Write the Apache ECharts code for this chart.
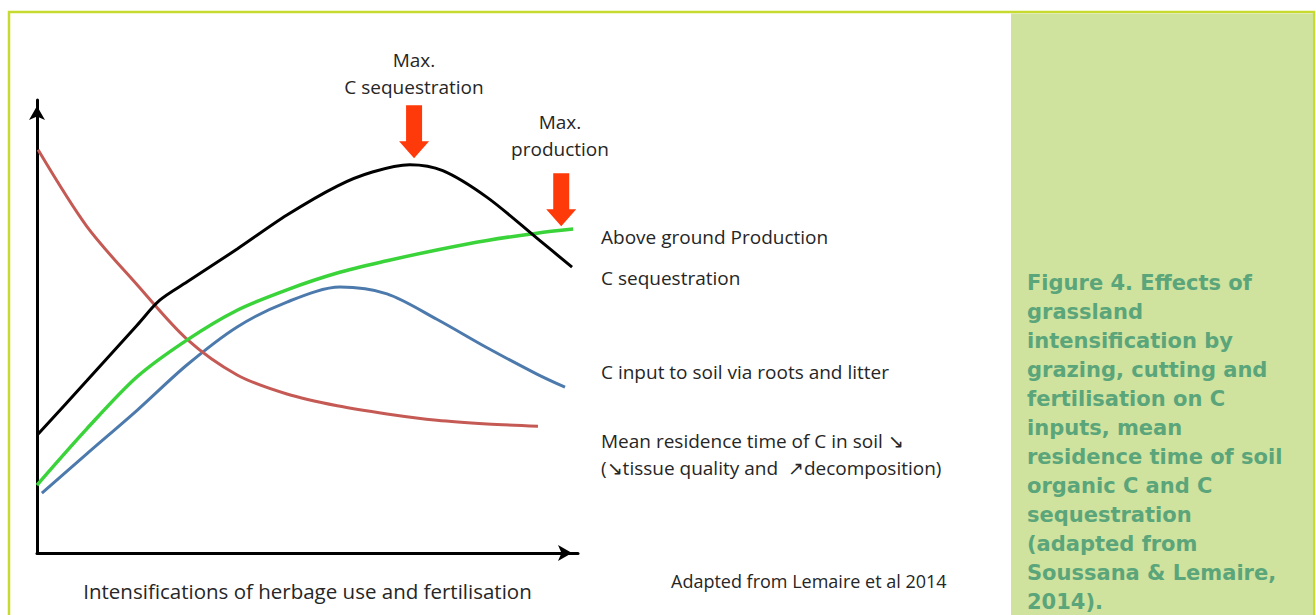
<!DOCTYPE html>
<html>
<head>
<meta charset="utf-8">
<style>
html,body{margin:0;padding:0;background:#fff;}
#chart{width:1316px;height:615px;}
</style>
<script src="https://cdn.jsdelivr.net/npm/echarts@6/dist/echarts.min.js"></script>
</head>
<body>
<div id="chart"></div>
<script>
// ---- data (abstract units: x 0..100 intensification, y 0..100 relative level) ----
const cSequestration = [[0,26.0],[9.2,38.0],[18.5,50.3],[22.7,55.8],[27.7,59.8],[37.0,67.1],[46.2,74.6],[55.5,81.0],[62.0,84.1],[68.9,85.7],[75.0,84.4],[83.2,78.5],[92.4,69.5],[98.9,63.1]];
const production = [[0,15.0],[9.2,27.4],[18.5,38.9],[27.7,47.0],[37.0,53.6],[46.2,58.1],[55.5,61.8],[64.7,64.5],[73.9,66.9],[83.2,69.0],[92.4,70.6],[99.1,71.5]];
const cInput = [[0.9,13.2],[9.2,21.9],[18.5,31.5],[27.7,41.5],[37.0,49.9],[46.2,55.4],[56.0,58.7],[64.7,57.2],[73.9,51.6],[83.2,45.3],[92.4,39.5],[97.6,36.6]];
const residenceTime = [[0.2,89.0],[9.2,72.1],[18.5,59.2],[27.7,47.2],[37.0,39.3],[46.2,35.1],[55.5,32.5],[64.7,30.7],[73.9,29.3],[83.2,28.5],[92.6,28.0]];
const maxArrows = [[69.7,93.0],[96.9,78.0]];
const seriesLabels = ['Above ground Production','C sequestration','C input to soil via roots and litter','Mean residence time of C in soil \u2198\n(\u2198tissue quality and  \u2197decomposition)'];
const xAxisTitle = 'Intensifications of herbage use and fertilisation';
const sourceNote = 'Adapted from Lemaire et al 2014';
const maxLabels = ['Max.\nC sequestration','Max.\nproduction'];
const caption = 'Figure 4. Effects of\ngrassland\nintensification by\ngrazing, cutting and\nfertilisation on C\ninputs, mean\nresidence time of soil\norganic C and C\nsequestration\n(adapted from\nSoussana & Lemaire,\n2014).';

const chart = echarts.init(document.getElementById('chart'), null, {renderer:'svg'});
const F = "'Open Sans', 'Liberation Sans', sans-serif";
const arrowPath = 'path://M7,0 L23,0 L23,36 L30,36 L15,53 L0,36 L7,36 Z';
const lineBase = {type:'line', smooth:0.3, showSymbol:false, symbol:'none', silent:true, z:3};

chart.setOption({
  animation:false,
  backgroundColor:'#ffffff',
  grid:{left:37, top:100, width:541, height:453, outerBoundsMode:'none', containLabel:false},
  xAxis:{type:'value', min:0, max:100, interval:20,
    axisLine:{show:true, symbol:['none','arrow'], symbolSize:[12,14], symbolOffset:[0,-6], lineStyle:{color:'#000', width:3}},
    axisTick:{show:false}, axisLabel:{show:false}, splitLine:{show:false},
    name:xAxisTitle, nameLocation:'middle', nameGap:27,
    nameTextStyle:{fontFamily:F, fontSize:20.5, color:'#262626'}},
  yAxis:{type:'value', min:0, max:100, interval:20,
    axisLine:{show:true, symbol:['none','arrow'], symbolSize:[12,14], symbolOffset:[0,-6], lineStyle:{color:'#000', width:3}},
    axisTick:{show:false}, axisLabel:{show:false}, splitLine:{show:false}},
  series:[
    Object.assign({}, lineBase, {name:'C input', data:cInput, lineStyle:{color:'#4d7aac', width:3}}),
    Object.assign({}, lineBase, {name:'Residence time', data:residenceTime, lineStyle:{color:'#c55a55', width:3}}),
    Object.assign({}, lineBase, {name:'Production', data:production, lineStyle:{color:'#3ad43a', width:3.5}}),
    Object.assign({}, lineBase, {name:'C sequestration', data:cSequestration, lineStyle:{color:'#000000', width:3},
      markPoint:{silent:true, symbol:arrowPath, symbolSize:[30,53], symbolKeepAspect:false,
        itemStyle:{color:'#ff3a0a'}, label:{show:false},
        data:maxArrows.map(p=>({coord:p}))}})
  ],
  graphic:[
    {type:'rect', shape:{x:9, y:12, width:1305, height:610}, style:{fill:'none', stroke:'#c6da30', lineWidth:2.5}, z:-10, silent:true},
    {type:'rect', shape:{x:1011, y:13.5, width:302, height:610}, style:{fill:'#cfe29e'}, z:-9, silent:true},
    {type:'text', x:1027, y:268, style:{text:caption, font:"bold 21px 'DejaVu Sans', Verdana, sans-serif", fill:'#5ba57b', lineHeight:29}, silent:true},
    {type:'text', x:414, y:46, style:{text:maxLabels[0], font:"19px "+F, fill:'#262626', align:'center', lineHeight:27}, silent:true},
    {type:'text', x:560, y:108, style:{text:maxLabels[1], font:"19px "+F, fill:'#262626', align:'center', lineHeight:27}, silent:true},
    {type:'text', x:601, y:237, style:{text:seriesLabels[0], font:"19px "+F, fill:'#262626', verticalAlign:'middle'}, silent:true},
    {type:'text', x:601, y:278, style:{text:seriesLabels[1], font:"19px "+F, fill:'#262626', verticalAlign:'middle'}, silent:true},
    {type:'text', x:601, y:372, style:{text:seriesLabels[2], font:"19px "+F, fill:'#262626', verticalAlign:'middle'}, silent:true},
    {type:'text', x:601, y:427, style:{text:seriesLabels[3], font:"19px "+F, fill:'#262626', lineHeight:27}, silent:true},
    {type:'text', x:671, y:581, style:{text:sourceNote, font:"18px "+F, fill:'#262626', verticalAlign:'middle'}, silent:true}
  ]
});
</script>
</body>
</html>
